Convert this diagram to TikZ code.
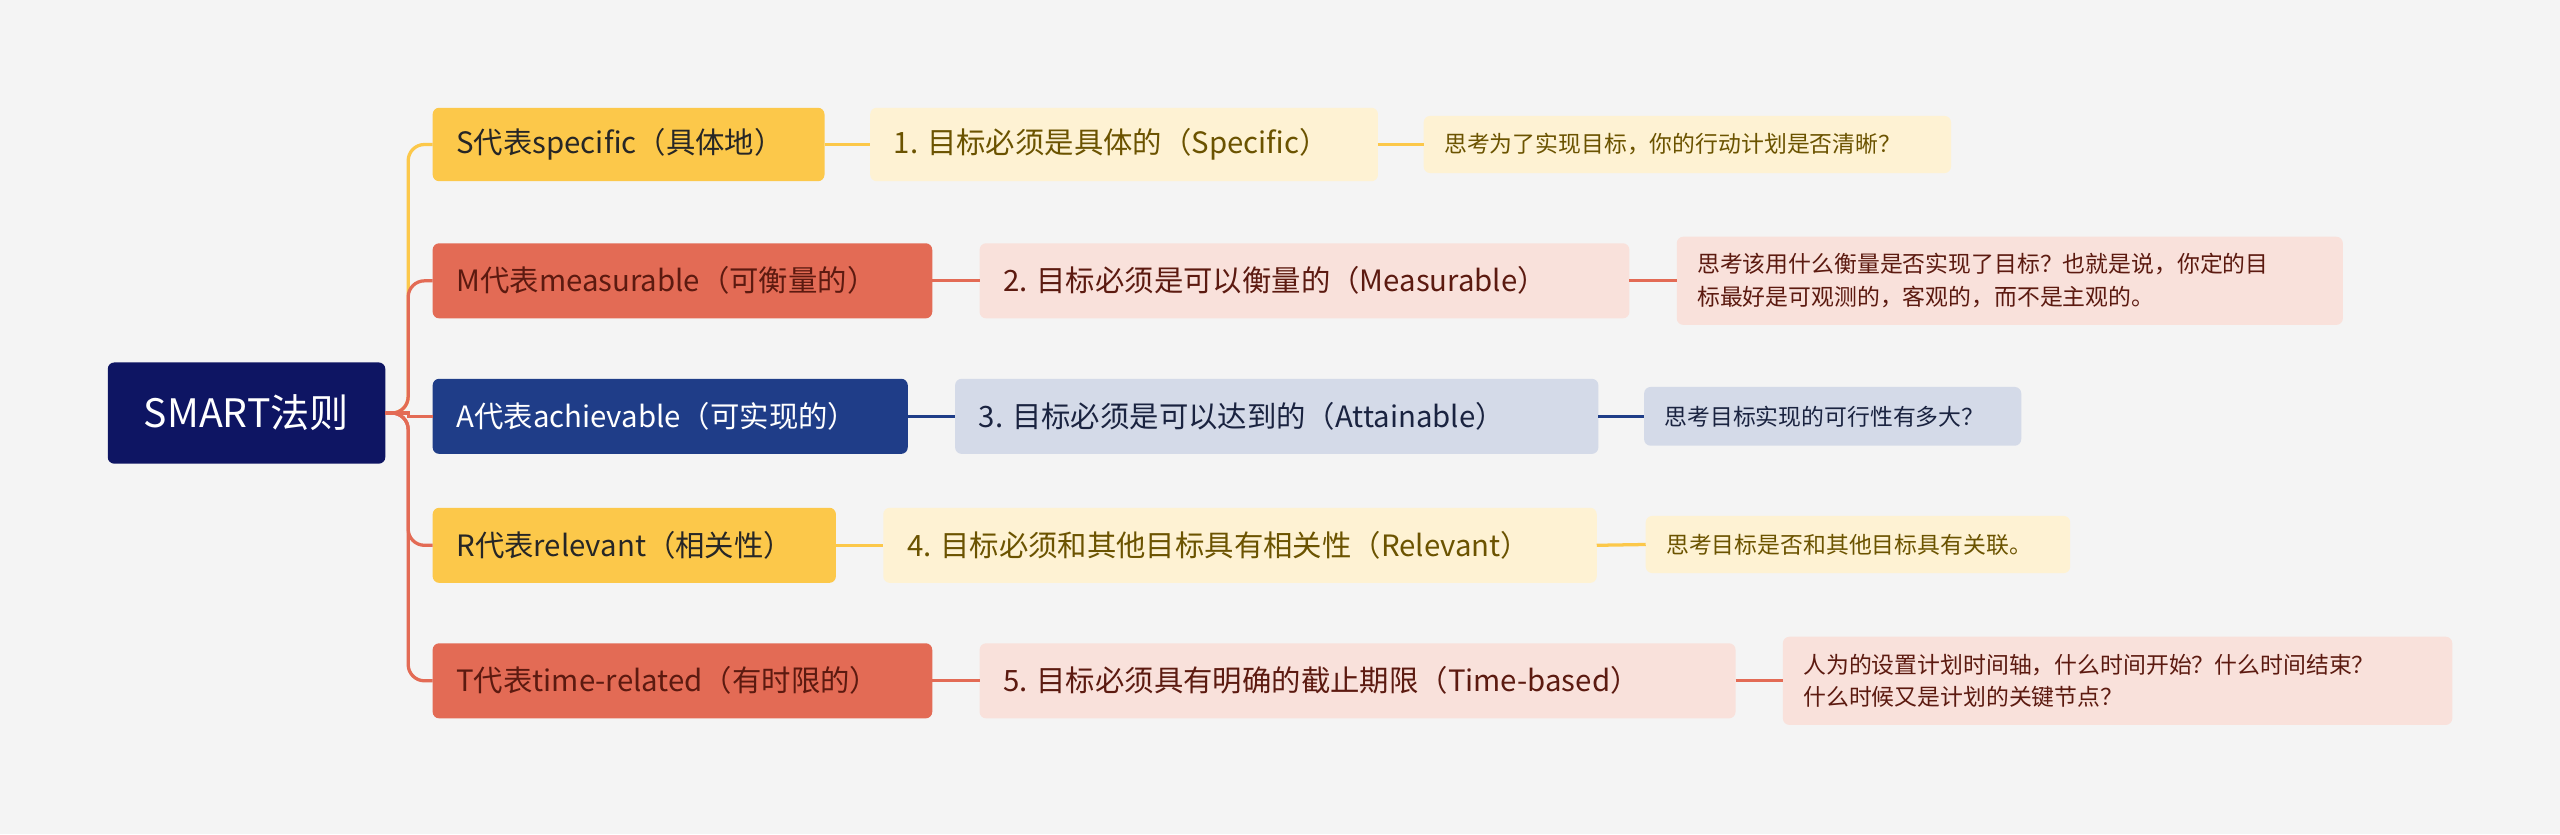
\documentclass[tikz,border=0pt]{standalone}
\usepackage{fontspec}
\setmainfont{Noto Sans CJK SC}
\definecolor{bg}{HTML}{F4F4F4}
\definecolor{navy}{HTML}{0E1563}
\definecolor{yel}{HTML}{FCC84A}
\definecolor{cor}{HTML}{E36B55}
\definecolor{blu}{HTML}{1F3D88}
\definecolor{lyel}{HTML}{FEF2D3}
\definecolor{lpink}{HTML}{F9E1DB}
\definecolor{lblu}{HTML}{D4DAE8}
\definecolor{olive}{HTML}{6B5300}
\definecolor{dred}{HTML}{5C1A10}
\definecolor{dblu}{HTML}{1A2340}
\begin{document}
\begin{tikzpicture}[x=1pt,y=-1pt,
  box/.style={rounded corners=4pt,anchor=north west,inner sep=0pt,align=left},
  lone/.style={font=\fontsize{18}{22}\selectfont},
  ltwo/.style={font=\fontsize{18}{22}\selectfont},
  lthree/.style={font=\fontsize{14}{20}\selectfont},
  con/.style={line width=2pt}]
\fill[bg] (0,0) rectangle (1568,511);
\useasboundingbox (0,0) rectangle (1568,511);
\newcommand\bx[7]{% name, x1,y1,x2,y2, fill, style+text
  \fill[#6,rounded corners=4pt] (#2,#3) rectangle (#4,#5);
  \coordinate (#1w) at (#2,{(#3+#5)/2});
  \coordinate (#1e) at (#4,{(#3+#5)/2});
  \node[anchor=west,inner sep=0pt,align=left,#7] (#1) at ({#2+11},{(#3+#5)/2}) ;}
% root
\fill[navy,rounded corners=4pt] (66,222) rectangle (236,284);
\node[text=white,font=\fontsize{24}{28}\selectfont] (root) at (151,253) {SMART法则};
\coordinate (re) at (236,253);
% level 1
\fill[yel,rounded corners=4pt] (265,66) rectangle (505,111);
\node[anchor=west,lone,text=black!85] (s1) at (276,88.5) {S代表specific（具体地）};
\fill[cor,rounded corners=4pt] (265,149) rectangle (571,195);
\node[anchor=west,lone,text=dred] (m1) at (276,172) {M代表measurable（可衡量的）};
\fill[blu,rounded corners=4pt] (265,232) rectangle (556,278);
\node[anchor=west,lone,text=white] (a1) at (276,255) {A代表achievable（可实现的）};
\fill[yel,rounded corners=4pt] (265,311) rectangle (512,357);
\node[anchor=west,lone,text=black!85] (r1) at (276,334) {R代表relevant（相关性）};
\fill[cor,rounded corners=4pt] (265,394) rectangle (571,440);
\node[anchor=west,lone,text=dred] (t1) at (276,417) {T代表time-related（有时限的）};
% level 2
\fill[lyel,rounded corners=4pt] (533,66) rectangle (844,111);
\node[anchor=west,ltwo,text=olive] (s2) at (544,88.5) {1. 目标必须是具体的（Specific）};
\fill[lpink,rounded corners=4pt] (600,149) rectangle (998,195);
\node[anchor=west,ltwo,text=dred] (m2) at (611,172) {2. 目标必须是可以衡量的（Measurable）};
\fill[lblu,rounded corners=4pt] (585,232) rectangle (979,278);
\node[anchor=west,ltwo,text=dblu] (a2) at (596,255) {3. 目标必须是可以达到的（Attainable）};
\fill[lyel,rounded corners=4pt] (541,311) rectangle (978,357);
\node[anchor=west,ltwo,text=olive] (r2) at (552,334) {4. 目标必须和其他目标具有相关性（Relevant）};
\fill[lpink,rounded corners=4pt] (600,394) rectangle (1063,440);
\node[anchor=west,ltwo,text=dred] (t2) at (611,417) {5. 目标必须具有明确的截止期限（Time-based）};
% level 3
\fill[lyel,rounded corners=4pt] (872,71) rectangle (1195,106);
\node[anchor=west,lthree,text=olive] (s3) at (881,88.5) {思考为了实现目标，你的行动计划是否清晰？};
\fill[lpink,rounded corners=4pt] (1027,145) rectangle (1435,199);
\node[anchor=west,lthree,text=dred,align=left] (m3) at (1036,172) {思考该用什么衡量是否实现了目标？也就是说，你定的目\\标最好是可观测的，客观的，而不是主观的。};
\fill[lblu,rounded corners=4pt] (1007,237) rectangle (1238,273);
\node[anchor=west,lthree,text=dblu] (a3) at (1016,255) {思考目标实现的可行性有多大？};
\fill[lyel,rounded corners=4pt] (1008,316) rectangle (1268,351);
\node[anchor=west,lthree,text=olive] (r3) at (1017,333.5) {思考目标是否和其他目标具有关联。};
\fill[lpink,rounded corners=4pt] (1092,390) rectangle (1502,444);
\node[anchor=west,lthree,text=dred,align=left] (t3) at (1101,417) {人为的设置计划时间轴，什么时间开始？什么时间结束？\\什么时候又是计划的关键节点？};
% coordinates
\coordinate (s1w) at (265,88.5); \coordinate (s1e) at (505,88.5);
\coordinate (m1w) at (265,172); \coordinate (m1e) at (571,172);
\coordinate (a1w) at (265,255); \coordinate (a1e) at (556,255);
\coordinate (r1w) at (265,334); \coordinate (r1e) at (512,334);
\coordinate (t1w) at (265,417); \coordinate (t1e) at (571,417);
\coordinate (s2w) at (533,88.5); \coordinate (s2e) at (844,88.5);
\coordinate (m2w) at (600,172); \coordinate (m2e) at (998,172);
\coordinate (a2w) at (585,255); \coordinate (a2e) at (979,255);
\coordinate (r2w) at (541,334); \coordinate (r2e) at (978,334);
\coordinate (t2w) at (600,417); \coordinate (t2e) at (1063,417);
\coordinate (s3w) at (872,88.5); \coordinate (m3w) at (1027,172);
\coordinate (a3w) at (1007,255); \coordinate (r3w) at (1008,333.5); \coordinate (t3w) at (1092,417);
% connectors
\draw[con,yel,rounded corners=10pt] (re) -- (250,253) |- (s1w);
\draw[con,cor,rounded corners=10pt] (re) -- (250,253) |- (m1w);
\draw[con,cor] (re) -- (250,253) |- (a1w);
\draw[con,cor,rounded corners=10pt] (re) -- (250,253) |- (r1w);
\draw[con,cor,rounded corners=10pt] (re) -- (250,253) |- (t1w);
\draw[con,yel] (s1e) -- (s2w); \draw[con,yel] (s2e) -- (s3w);
\draw[con,cor] (m1e) -- (m2w); \draw[con,cor] (m2e) -- (m3w);
\draw[con,blu] (a1e) -- (a2w); \draw[con,blu] (a2e) -- (a3w);
\draw[con,yel] (r1e) -- (r2w); \draw[con,yel] (r2e) -- (r3w);
\draw[con,cor] (t1e) -- (t2w); \draw[con,cor] (t2e) -- (t3w);
\end{tikzpicture}
\end{document}
